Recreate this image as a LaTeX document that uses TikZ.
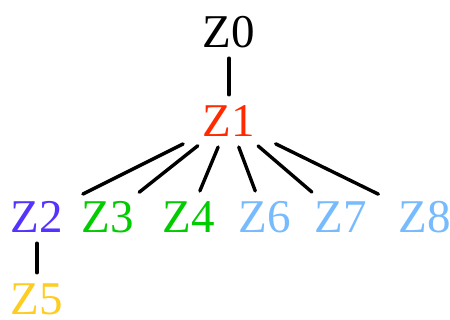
\documentclass[tikz,border=0pt]{standalone}
\usepackage{fontspec}
\setmainfont{Liberation Serif}
\usetikzlibrary{shapes.geometric}
\definecolor{cred}{HTML}{FF2A00}
\definecolor{cpurple}{HTML}{5533FF}
\definecolor{cgreen}{HTML}{00CC00}
\definecolor{cblue}{HTML}{77BBFF}
\definecolor{cyellow}{HTML}{FFCC22}
\tikzset{
  lbl/.style={ellipse, inner sep=0pt, minimum width=190pt, minimum height=52pt,
    font=\fontsize{47}{56}\selectfont},
  edge/.style={line width=3.4pt, line cap=round, black}
}
\begin{document}
\begin{tikzpicture}[x=1pt,y=-1pt]
\useasboundingbox (0,0) rectangle (450,320);
\node[lbl] (z0) at (229,32) {Z0};
\node[lbl, text=cred] (z1) at (229,121) {Z1};
\node[lbl, text=cpurple] (z2) at (37,217) {Z2};
\node[lbl, text=cgreen] (z3) at (108,217) {Z3};
\node[lbl, text=cgreen] (z4) at (189,217) {Z4};
\node[lbl, text=cblue] (z6) at (265,217) {Z6};
\node[lbl, text=cblue] (z7) at (341,217) {Z7};
\node[lbl, text=cblue] (z8) at (425,217) {Z8};
\node[lbl, text=cyellow] (z5) at (37,299) {Z5};
\draw[edge] (z0) -- (z1);
\draw[edge] (z1) -- (z2);
\draw[edge] (z1) -- (z3);
\draw[edge] (z1) -- (z4);
\draw[edge] (z1) -- (z6);
\draw[edge] (z1) -- (z7);
\draw[edge] (z1) -- (z8);
\draw[edge] (z2) -- (z5);
\end{tikzpicture}
\end{document}
